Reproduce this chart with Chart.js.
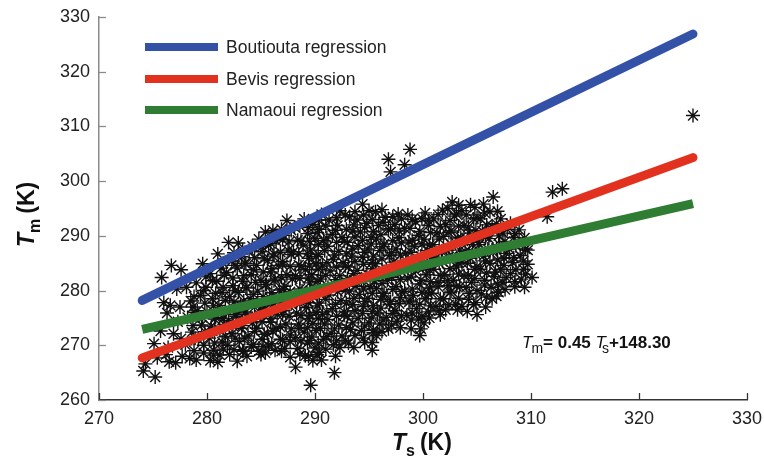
<!DOCTYPE html>
<html>
<head>
<meta charset="utf-8">
<script src="https://cdn.jsdelivr.net/npm/chart.js@4.4.1/dist/chart.umd.min.js"></script>
<style>
  body { margin: 0; background: #fff; }
  #container { width: 764px; height: 459px; }
</style>
</head>
<body>
<div id="container">
  <canvas id="myChart" width="764" height="459"></canvas>
</div>
<script>
// axis ranges and ticks
const xTicks = [270, 280, 290, 300, 310, 320, 330];
const yTicks = [260, 270, 280, 290, 300, 310, 320, 330];

// regression lines, end points [Ts, Tm]
const boutiouta = [[274, 278.2], [325, 326.9]];
const bevis = [[274, 267.7], [325, 304.3]];
const namaoui = [[274, 272.9], [325, 295.9]];
const lineNames = ['Boutiouta regression', 'Bevis regression', 'Namaoui regression'];
const lineColors = ['#3451a8', '#e2321f', '#2e7d32'];

// observations [Ts, Tm], read column by column from the cloud (edges + outliers)
const observations = [
  [274.1,265.3],[274.3,266.6],
  [275.2,264.2],[275.4,267.7],[275.1,270.3],
  [275.8,282.4],[276.0,277.8],[275.7,272.6],[276.2,268.3],
  [276.7,284.6],[276.6,277.3],[276.3,275.9],[276.9,272.1],[276.5,267.0],[276.4,269.6],
  [277.6,283.8],[277.2,280.3],[277.5,277.0],[277.3,274.3],[277.7,268.0],[277.1,266.8],[277.6,271.2],
  [278.1,280.6],[278.5,278.1],[278.2,275.1],[278.6,272.4],[278.0,270.1],[278.4,267.6],[278.7,277.0],
  [279.6,284.9],[279.0,281.4],[279.4,279.1],[279.1,276.3],[279.5,273.7],[279.2,271.1],[279.7,268.6],[279.0,267.3],
  [280.3,283.1],[279.9,280.6],[280.5,278.5],[280.0,276.1],[280.4,273.5],[280.2,271.3],[280.6,269.1],[280.3,267.2],[280.8,275.1],
  [281.0,286.7],[281.3,284.1],[280.9,281.7],[281.4,279.6],[281.1,277.3],[281.5,274.9],[281.2,272.7],[281.4,270.6],[281.2,268.2],[281.0,266.9],
  [282.0,288.8],[282.3,285.4],[281.8,283.3],[282.4,280.9],[282.1,278.9],[282.5,276.5],[282.0,274.5],[282.3,272.1],[281.9,270.0],[282.1,268.3],
  [282.9,288.7],[283.2,286.2],[282.8,284.1],[283.3,281.7],[282.9,279.7],[283.1,277.3],[282.7,275.3],[283.2,273.1],[283.0,270.7],[283.3,268.9],[282.8,267.1],
  [283.9,287.3],[283.6,284.9],[284.1,282.9],[283.7,280.5],[284.0,278.5],[283.6,276.1],[284.2,274.1],[283.8,271.7],[284.1,269.7],[283.7,268.0],
  [284.8,289.4],[285.1,287.1],[284.6,284.6],[285.0,281.9],[284.7,279.9],[285.2,277.5],[284.9,275.5],[284.6,273.1],[285.1,271.1],[284.8,268.9],[285.0,268.3],
  [285.4,290.7],[285.7,288.3],[285.6,285.5],[285.9,283.4],[285.5,281.1],[285.8,278.7],[285.4,276.7],[285.9,274.2],[285.6,272.1],[285.7,269.9],[285.4,268.6],
  [286.1,291.0],[286.4,289.1],[286.2,286.7],[286.6,284.6],[286.3,282.1],[286.7,280.1],[286.2,277.7],[286.5,275.6],[286.4,273.1],[286.8,271.1],[286.3,269.1],
  [287.4,292.8],[287.1,290.1],[287.5,287.4],[287.0,285.3],[287.4,282.9],[287.2,280.8],[287.6,278.3],[287.1,276.3],[287.3,273.9],[287.7,271.9],[287.2,269.4],[287.7,267.8],
  [288.1,291.6],[288.4,289.2],[288.0,287.1],[288.5,284.7],[288.2,282.7],[288.6,280.3],[288.0,278.3],[288.3,275.9],[288.5,273.9],[288.2,271.4],[288.4,269.4],[288.2,266.0],
  [289.0,293.1],[289.3,290.4],[288.9,288.3],[289.4,285.9],[289.1,283.8],[289.5,281.4],[289.0,279.4],[289.2,276.9],[289.4,274.9],[289.0,272.4],[289.3,270.4],[289.1,268.1],
  [289.8,292.1],[290.0,289.5],[289.6,287.4],[290.1,284.9],[289.7,282.9],[290.0,280.5],[289.6,278.5],[290.1,276.0],[289.8,274.0],[289.7,271.5],[290.0,269.5],[289.8,267.2],[289.6,262.7],
  [290.6,293.9],[290.4,291.2],[290.8,289.1],[290.3,286.6],[290.7,284.5],[290.5,282.1],[290.9,280.1],[290.4,277.7],[290.7,275.6],[290.5,273.1],[290.8,271.1],[290.4,268.7],[290.6,267.3],
  [291.3,292.9],[291.6,290.3],[291.2,288.1],[291.7,285.7],[291.4,283.6],[291.8,281.2],[291.3,279.2],[291.6,276.7],[291.2,274.7],[291.5,272.2],[291.7,270.1],[291.8,265.0],
  [292.3,294.6],[292.1,291.9],[292.5,289.7],[292.2,287.2],[292.6,285.1],[292.3,282.7],[292.0,280.7],[292.4,278.2],[292.7,276.1],[292.2,273.7],[292.5,271.7],[292.3,269.6],
  [293.2,293.5],[293.5,290.9],[293.0,288.8],[293.4,286.3],[293.1,284.3],[293.6,281.9],[293.2,279.9],[293.5,277.4],[293.0,275.3],[293.3,272.9],[293.1,270.4],
  [294.4,295.8],[293.9,292.9],[294.2,290.7],[294.0,288.2],[294.4,286.1],[293.9,283.7],[294.3,281.7],[294.1,279.3],[294.5,277.1],[294.0,274.9],[294.3,272.7],[294.6,270.5],
  [295.0,294.6],[294.8,292.3],[295.2,289.7],[294.9,287.6],[295.3,285.1],[294.8,283.1],[295.1,280.7],[294.9,278.6],[295.3,276.2],[295.0,274.1],[295.4,272.3],[295.3,269.1],
  [295.6,294.4],[295.9,291.9],[295.7,289.4],[296.0,287.3],[295.6,284.9],[295.9,282.9],[295.7,280.4],[296.1,278.4],[295.8,275.9],[296.0,273.9],[295.7,271.8],
  [296.8,304.0],[297.0,301.7],[296.5,293.4],[296.8,291.1],[296.4,288.5],[296.9,286.4],[296.6,283.9],[296.7,281.9],[296.4,279.5],[296.9,277.5],[296.6,275.1],[296.8,273.0],
  [297.7,294.0],[297.4,292.1],[297.8,289.7],[297.5,287.6],[297.3,285.2],[297.7,283.1],[297.5,280.7],[297.9,278.7],[297.4,276.3],[297.6,274.4],
  [298.8,305.8],[298.3,303.0],[298.6,293.8],[298.3,291.4],[298.7,288.9],[298.4,286.8],[298.2,284.4],[298.6,282.3],[298.3,279.9],[298.7,277.9],[298.5,275.5],[298.9,274.6],
  [299.3,292.6],[299.6,290.1],[299.2,288.1],[299.5,285.7],[299.3,283.6],[299.7,281.2],[299.1,279.1],[299.4,276.7],[299.6,274.8],[299.7,271.8],
  [300.2,294.2],[300.5,291.9],[300.1,289.4],[300.4,287.3],[300.0,284.9],[300.3,282.9],[300.6,280.5],[300.2,278.5],[300.5,276.1],[300.1,274.1],
  [301.0,293.1],[301.3,290.5],[300.9,288.4],[301.2,285.9],[301.0,283.9],[301.4,281.5],[300.8,279.5],[301.2,277.1],[301.6,275.6],
  [301.8,294.7],[302.1,292.1],[301.9,289.9],[302.2,287.4],[301.8,285.3],[302.0,282.9],[302.3,280.9],[301.9,278.5],[302.1,276.5],
  [302.7,296.2],[302.9,293.6],[302.6,290.9],[303.0,288.8],[302.7,286.3],[303.1,284.3],[302.8,281.9],[302.6,279.9],[303.0,277.5],
  [303.6,294.6],[303.8,291.9],[303.5,289.7],[303.9,287.2],[303.6,285.1],[303.8,282.7],[303.4,280.7],[303.6,277.1],
  [304.4,295.7],[304.7,293.1],[304.3,290.5],[304.6,288.4],[304.4,285.9],[304.8,283.9],[304.5,281.5],[304.3,279.5],[304.7,277.4],
  [305.6,295.8],[305.3,293.1],[305.5,290.9],[305.2,288.4],[305.6,286.3],[305.3,283.9],[305.7,281.9],[305.4,279.4],[305.0,275.6],
  [306.5,297.1],[306.2,294.4],[306.4,291.7],[306.1,289.5],[306.5,287.0],[306.2,285.0],[306.6,282.6],[306.3,280.6],[306.4,278.5],
  [307.2,293.1],[307.4,290.5],[307.1,288.4],[307.5,285.9],[307.2,283.9],[307.4,281.5],[307.0,279.7],
  [308.1,292.3],[308.4,289.7],[308.0,287.6],[308.3,285.1],[308.1,283.1],[308.5,280.7],
  [308.9,291.1],[309.2,288.5],[309.0,286.4],[309.3,283.9],[309.1,282.1],
  [309.7,287.4],[309.7,284.8],[310.1,282.4],
  [311.5,293.5],[312.0,298.0],[312.9,298.6],[325.0,312.0]
];

// extra observations filling the dense core of the cloud
const observationsCore = [
  [278.8,269.0],[278.9,271.3],[278.7,273.6],[278.9,276.0],[278.8,278.9],
  [279.7,270.0],[279.8,272.5],[279.6,275.0],[279.8,277.7],[279.7,280.0],[279.9,282.5],
  [280.6,268.2],[280.7,270.4],[280.5,272.6],[280.7,274.8],[280.6,277.2],[280.8,279.5],[280.5,281.8],
  [281.5,269.3],[281.7,271.6],[281.6,273.8],[281.4,276.0],[281.7,278.2],[281.5,280.6],[281.6,282.8],[281.5,285.0],
  [282.5,269.2],[282.6,271.3],[282.4,273.5],[282.7,275.6],[282.5,277.9],[282.6,280.0],[282.4,282.3],[282.6,284.6],[282.5,286.9],
  [283.4,269.0],[283.5,271.3],[283.3,273.6],[283.5,275.9],[283.4,278.1],[283.6,280.5],[283.4,282.7],[283.5,285.0],[283.3,287.4],
  [284.3,270.2],[284.4,272.5],[284.2,274.8],[284.4,277.0],[284.3,279.3],[284.5,281.5],[284.3,283.8],[284.4,286.0],[284.2,288.1],
  [285.2,269.8],[285.3,272.0],[285.1,274.3],[285.3,276.5],[285.2,278.9],[285.4,281.1],[285.2,283.4],[285.3,285.8],[285.1,288.0],
  [286.0,270.3],[286.1,272.6],[285.9,274.9],[286.1,277.2],[286.0,279.6],[286.2,281.8],[286.0,284.0],[286.1,286.3],[285.9,288.6],[286.0,290.0],
  [286.9,268.9],[287.0,271.0],[286.8,273.3],[287.0,275.6],[286.9,277.9],[287.1,280.2],[286.9,282.4],[287.0,284.7],[286.8,287.0],[287.0,289.3],[286.9,291.2],
  [287.7,270.7],[287.8,273.0],[287.6,275.3],[287.8,277.6],[287.7,279.8],[287.9,282.1],[287.7,284.4],[287.8,286.6],[287.6,288.9],[287.8,291.0],
  [288.6,268.4],[288.7,270.8],[288.5,273.1],[288.7,275.4],[288.6,277.6],[288.8,279.9],[288.6,282.2],[288.7,284.4],[288.5,286.7],[288.7,289.0],[288.6,291.8],
  [289.4,268.0],[289.5,270.9],[289.3,273.2],[289.5,275.5],[289.4,277.8],[289.6,280.0],[289.4,282.3],[289.5,284.5],[289.3,286.8],[289.5,289.0],[289.4,291.5],
  [290.2,268.3],[290.3,270.4],[290.1,272.7],[290.3,274.9],[290.2,277.2],[290.4,279.4],[290.2,281.7],[290.3,283.9],[290.1,286.2],[290.3,288.4],[290.2,290.6],[290.3,292.9],
  [291.0,269.3],[291.1,271.6],[290.9,273.9],[291.1,276.1],[291.0,278.4],[291.2,280.6],[291.0,282.8],[291.1,285.1],[290.9,287.3],[291.1,289.6],[291.0,291.8],
  [291.9,268.0],[292.0,270.8],[291.8,273.0],[292.0,275.3],[291.9,277.5],[292.1,279.8],[291.9,282.0],[292.0,284.3],[291.8,286.5],[292.0,288.8],[291.9,291.0],[292.0,293.3],
  [292.8,270.9],[292.9,273.2],[292.7,275.5],[292.9,277.7],[292.8,280.0],[293.0,282.2],[292.8,284.5],[292.9,286.7],[292.7,289.0],[292.9,291.2],[292.8,293.8],
  [293.6,269.6],[293.7,271.8],[293.5,274.1],[293.7,276.3],[293.6,278.6],[293.8,280.8],[293.6,283.1],[293.7,285.3],[293.5,287.6],[293.7,289.8],[293.6,292.0],[293.7,294.4],
  [294.5,271.3],[294.6,273.5],[294.4,275.8],[294.6,278.0],[294.5,280.3],[294.7,282.5],[294.5,284.8],[294.6,287.0],[294.4,289.2],[294.6,291.5],[294.5,293.8],
  [295.3,270.5],[295.4,272.8],[295.2,275.0],[295.4,277.3],[295.3,279.5],[295.5,281.8],[295.3,284.0],[295.4,286.3],[295.2,288.5],[295.4,290.8],[295.3,293.0],
  [296.2,272.5],[296.3,274.6],[296.1,276.8],[296.3,279.0],[296.2,281.3],[296.4,283.5],[296.2,285.8],[296.3,288.0],[296.1,290.2],[296.3,292.5],[296.2,294.8],
  [297.1,273.7],[297.2,275.8],[297.0,278.0],[297.2,280.2],[297.1,282.4],[297.3,284.7],[297.1,286.9],[297.2,289.1],[297.0,291.3],[297.2,293.5],
  [297.9,273.2],[298.0,275.4],[297.8,277.6],[298.0,279.8],[297.9,282.0],[298.1,284.3],[297.9,286.5],[298.0,288.7],[297.8,290.9],[298.0,293.1],
  [298.9,273.0],[299.0,275.9],[298.8,278.1],[299.0,280.3],[298.9,282.5],[299.1,284.8],[298.9,287.0],[299.0,289.2],[298.8,291.4],[299.0,293.0],
  [299.8,273.0],[299.9,275.3],[299.7,277.5],[299.9,279.7],[299.8,281.9],[300.0,284.1],[299.8,286.3],[299.9,288.5],[299.7,290.8],[299.9,293.2],
  [300.6,275.0],[300.7,277.2],[300.5,279.4],[300.7,281.6],[300.6,283.8],[300.8,286.0],[300.6,288.3],[300.7,290.6],[300.5,292.8],
  [301.5,276.3],[301.6,278.5],[301.4,280.7],[301.6,282.8],[301.5,285.0],[301.7,287.2],[301.5,289.4],[301.6,291.7],[301.4,293.9],
  [302.4,277.4],[302.5,279.6],[302.3,281.8],[302.5,284.0],[302.4,286.2],[302.6,288.4],[302.4,290.6],[302.5,292.8],[302.3,295.0],
  [303.2,276.5],[303.3,278.6],[303.1,280.8],[303.3,283.0],[303.2,285.2],[303.4,287.4],[303.2,289.6],[303.3,291.8],[303.1,294.0],[303.3,295.6],
  [304.1,276.2],[304.2,278.4],[304.0,280.6],[304.2,282.8],[304.1,285.0],[304.3,287.2],[304.1,289.4],[304.2,291.6],[304.0,293.8],
  [304.9,277.8],[305.0,280.0],[304.8,282.2],[305.0,284.4],[304.9,286.6],[305.1,288.8],[304.9,291.0],[305.0,293.3],[304.8,295.2],
  [305.8,277.0],[305.9,278.8],[305.7,281.0],[305.9,283.2],[305.8,285.4],[306.0,287.6],[305.8,289.8],[305.9,292.0],[305.7,294.2],
  [306.8,279.0],[306.9,281.2],[306.7,283.4],[306.9,285.6],[306.8,287.8],[307.0,290.0],[306.8,292.2],[306.9,294.5],
  [307.6,280.2],[307.7,282.4],[307.5,284.6],[307.7,286.8],[307.6,289.0],[307.8,291.2],
  [308.5,281.6],[308.6,283.8],[308.4,286.0],[308.6,288.2],[308.5,290.4],
  [309.4,280.6],[309.5,283.0],[309.3,285.4],[309.5,287.6],[309.4,289.6]
];

const FONT = '"Liberation Sans", Arial, Helvetica, sans-serif';

const toPts = arr => arr.map(p => ({ x: p[0], y: p[1] }));

// draws a run of text pieces (for subscripts / mixed styles)
function drawParts(ctx, parts, x, y) {
  parts.forEach(p => {
    ctx.font = p.font;
    ctx.fillText(p.text, x, y + (p.dy || 0));
    x += ctx.measureText(p.text).width + (p.gap || 0);
  });
}

const decorations = {
  id: 'decorations',
  afterDraw(chart) {
    const ctx = chart.ctx;
    const xs = chart.scales.x, ys = chart.scales.y;
    const a = chart.chartArea;
    ctx.save();

    // inward tick marks
    ctx.lineWidth = 1.3;
    ctx.strokeStyle = '#333';
    xTicks.forEach(v => {
      const px = Math.round(xs.getPixelForValue(v)) + 0.5;
      ctx.beginPath(); ctx.moveTo(px, a.bottom); ctx.lineTo(px, a.bottom - 7); ctx.stroke();
    });
    ctx.strokeStyle = '#8a8a8a';
    yTicks.forEach(v => {
      const py = Math.round(ys.getPixelForValue(v)) + 0.5;
      ctx.beginPath(); ctx.moveTo(a.left, py); ctx.lineTo(a.left + 7, py); ctx.stroke();
    });

    // legend
    ctx.textBaseline = 'middle';
    ctx.fillStyle = '#222';
    const legY = [47, 79, 110];
    lineNames.forEach((name, i) => {
      ctx.strokeStyle = lineColors[i];
      ctx.lineWidth = 8;
      ctx.lineCap = 'butt';
      ctx.beginPath(); ctx.moveTo(145, legY[i]); ctx.lineTo(218, legY[i]); ctx.stroke();
      ctx.font = '17.5px ' + FONT;
      ctx.fillText(name, 226, legY[i] + 1);
    });

    // x title
    ctx.textBaseline = 'alphabetic';
    ctx.fillStyle = '#111';
    drawParts(ctx, [
      { text: 'T', font: 'italic bold 23px ' + FONT, gap: 0 },
      { text: 's', font: 'bold 16px ' + FONT, dy: 6, gap: 5 },
      { text: '(K)', font: 'bold 23px ' + FONT }
    ], 392, 450);

    // y title (rotated)
    ctx.save();
    ctx.translate(34, 247);
    ctx.rotate(-Math.PI / 2);
    drawParts(ctx, [
      { text: 'T', font: 'italic bold 23px ' + FONT, gap: 0 },
      { text: 'm', font: 'bold 16px ' + FONT, dy: 6, gap: 5 },
      { text: '(K)', font: 'bold 23px ' + FONT }
    ], 0, 0);
    ctx.restore();

    // fitted equation
    drawParts(ctx, [
      { text: 'T', font: 'italic 17px ' + FONT, gap: -1 },
      { text: 'm', font: '14px ' + FONT, dy: 5 },
      { text: '= 0.45 ', font: 'bold 17px ' + FONT },
      { text: 'T', font: 'italic 17px ' + FONT, gap: -4 },
      { text: 's', font: '14px ' + FONT, dy: 5 },
      { text: '+148.30', font: 'bold 17px ' + FONT }
    ], 522, 348);

    ctx.restore();
  }
};

const lineSet = (data, i) => ({
  type: 'line',
  label: lineNames[i],
  data: toPts(data),
  borderColor: lineColors[i],
  borderWidth: 9,
  borderCapStyle: i === 2 ? 'butt' : 'round',
  pointRadius: 0,
  fill: false
});

const tickFont = { family: FONT, size: 18 };

new Chart(document.getElementById('myChart').getContext('2d'), {
  type: 'scatter',
  data: {
    datasets: [
      lineSet(boutiouta, 0),
      lineSet(bevis, 1),
      lineSet(namaoui, 2),
      {
        label: 'observations',
        data: toPts(observations.concat(observationsCore)),
        pointStyle: 'star',
        pointRadius: 7,
        borderColor: '#111',
        borderWidth: 1.4,
        backgroundColor: 'transparent'
      }
    ]
  },
  options: {
    responsive: false,
    animation: false,
    devicePixelRatio: 1,
    layout: { padding: { top: 17, right: 17, left: 0, bottom: 0 } },
    plugins: { legend: { display: false }, tooltip: { enabled: false } },
    scales: {
      x: {
        type: 'linear',
        min: 270, max: 330,
        afterFit: s => { s.height = 59; },
        afterBuildTicks: s => { s.ticks = xTicks.map(v => ({ value: v })); },
        grid: { display: false },
        border: { display: true, color: '#333', width: 1.5 },
        ticks: { font: tickFont, color: '#222', padding: 0, maxRotation: 0 }
      },
      y: {
        type: 'linear',
        min: 260, max: 330,
        afterFit: s => { s.width = 99; },
        afterBuildTicks: s => { s.ticks = yTicks.map(v => ({ value: v })); },
        grid: { display: false },
        border: { display: true, color: '#8a8a8a', width: 1.5 },
        ticks: { font: tickFont, color: '#222', padding: 1 }
      }
    }
  },
  plugins: [decorations]
});
</script>
</body>
</html>
